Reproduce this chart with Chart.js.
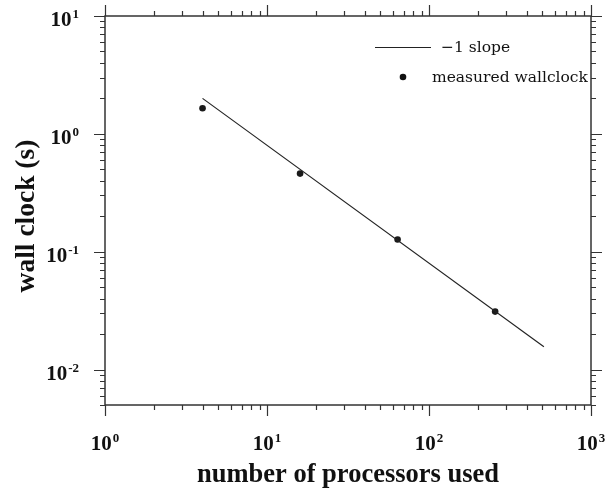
<!DOCTYPE html>
<html>
<head>
<meta charset="utf-8">
<script src="https://cdn.jsdelivr.net/npm/chart.js@4.4.1/dist/chart.umd.min.js"></script>
<style>
  body { margin: 0; background: #fff; }
  #wrap { width: 605px; height: 491px; }
</style>
</head>
<body>
<div id="wrap"><canvas id="scalingChart" width="605" height="491"></canvas></div>
<script>
// data
const nProcs = [4, 16, 64, 256];
const wallclock = [1.65, 0.46, 0.127, 0.031];
const slopeX = [4, 512];
const slopeY = [2.0, 0.0156];

const xMin = 1, xMax = 1000;
const yMin = 0.005, yMax = 10;
const xDecades = [0, 1, 2, 3];
const yDecades = [-2, -1, 0, 1];

const seriesNames = ['\u22121 slope', 'measured wallclock'];

const SERIF = '"Liberation Serif", "Times New Roman", Times, serif';

function logTicks(min, max) {
    const out = [];
    for (let d = Math.floor(Math.log10(min)); d <= Math.ceil(Math.log10(max)); d++) {
        for (let m = 1; m <= 9; m++) {
            const v = m * Math.pow(10, d);
            if (v >= min * 0.9999 && v <= max * 1.0001) out.push({ v: v, major: m === 1 });
        }
    }
    return out;
}

function drawPow(ctx, x, y, exp, align) {
    const base = '10';
    const sup = exp < 0 ? '-' + Math.abs(exp) : String(exp);
    ctx.font = 'bold 21px ' + SERIF;
    const wb = ctx.measureText(base).width;
    ctx.font = 'bold 13px ' + SERIF;
    const ws = ctx.measureText(sup).width;
    const total = wb + ws + 1;
    let x0 = align === 'center' ? x - total / 2 : x - total;
    ctx.textAlign = 'left';
    ctx.textBaseline = 'alphabetic';
    ctx.font = 'bold 21px ' + SERIF;
    ctx.fillText(base, x0, y);
    ctx.font = 'bold 13px ' + SERIF;
    ctx.fillText(sup, x0 + wb + 1, y - 8);
}

const axesPlugin = {
    id: 'ncarAxes',
    afterDraw(chart) {
        const ctx = chart.ctx;
        const a = chart.chartArea;
        const xs = chart.scales.x, ys = chart.scales.y;
        ctx.save();
        ctx.strokeStyle = '#333';
        ctx.fillStyle = '#222';
        ctx.lineWidth = 1.5;
        ctx.strokeRect(a.left, a.top, a.right - a.left, a.bottom - a.top);

        ctx.lineWidth = 1.2;
        ctx.beginPath();
        logTicks(xMin, xMax).forEach(t => {
            const px = Math.round(xs.getPixelForValue(t.v)) + 0.5;
            const len = t.major ? 11 : 5;
            ctx.moveTo(px, a.bottom); ctx.lineTo(px, a.bottom + len);
            ctx.moveTo(px, a.top); ctx.lineTo(px, a.top - len);
        });
        logTicks(yMin, yMax).forEach(t => {
            const py = Math.round(ys.getPixelForValue(t.v)) + 0.5;
            const len = t.major ? 11 : 5;
            ctx.moveTo(a.left, py); ctx.lineTo(a.left - len, py);
            ctx.moveTo(a.right, py); ctx.lineTo(a.right + len, py);
        });
        ctx.stroke();

        ctx.fillStyle = '#111';
        xDecades.forEach(d => {
            drawPow(ctx, xs.getPixelForValue(Math.pow(10, d)), a.bottom + 45, d, 'center');
        });
        yDecades.forEach(d => {
            drawPow(ctx, a.left - 26, ys.getPixelForValue(Math.pow(10, d)) + 10, d, 'right');
        });

        // axis titles
        ctx.textAlign = 'center';
        ctx.textBaseline = 'alphabetic';
        ctx.font = 'bold 26.5px ' + SERIF;
        ctx.fillText('number of processors used', (a.left + a.right) / 2, 482);
        ctx.save();
        ctx.font = 'bold 27.5px ' + SERIF;
        ctx.translate(34, 216);
        ctx.rotate(-Math.PI / 2);
        ctx.fillText('wall clock (s)', 0, 0);
        ctx.restore();

        // legend
        ctx.strokeStyle = '#222';
        ctx.lineWidth = 1;
        ctx.beginPath();
        ctx.moveTo(375, 47.5); ctx.lineTo(431, 47.5);
        ctx.stroke();
        ctx.beginPath();
        ctx.arc(403, 77, 3.3, 0, Math.PI * 2);
        ctx.fill();
        ctx.font = '15.5px "DejaVu Serif"';
        ctx.textAlign = 'left';
        ctx.fillText(seriesNames[0], 441, 52);
        ctx.fillText(seriesNames[1], 432, 82);
        ctx.restore();
    }
};

function build() {
    const ctx = document.getElementById('scalingChart').getContext('2d');
    return new Chart(ctx, {
        type: 'scatter',
        data: {
            datasets: [{
                label: seriesNames[0],
                data: slopeX.map((x, i) => ({ x: x, y: slopeY[i] })),
                showLine: true,
                borderColor: '#222',
                borderWidth: 1.2,
                pointRadius: 0,
                fill: false
            }, {
                label: seriesNames[1],
                data: nProcs.map((x, i) => ({ x: x, y: wallclock[i] })),
                showLine: false,
                backgroundColor: '#1a1a1a',
                borderColor: '#1a1a1a',
                pointRadius: 3.3,
                pointBorderWidth: 0
            }]
        },
        options: {
            responsive: false,
            animation: false,
            layout: { padding: { left: 105, top: 16, right: 14, bottom: 86 } },
            plugins: {
                legend: { display: false },
                tooltip: { enabled: false }
            },
            scales: {
                x: { type: 'logarithmic', min: xMin, max: xMax, display: false },
                y: { type: 'logarithmic', min: yMin, max: yMax, display: false }
            }
        },
        plugins: [axesPlugin]
    });
}

Promise.all([
    document.fonts.load('bold 21px "Liberation Serif"'),
    document.fonts.load('15px "DejaVu Serif"')
]).then(build, build);
</script>
</body>
</html>
